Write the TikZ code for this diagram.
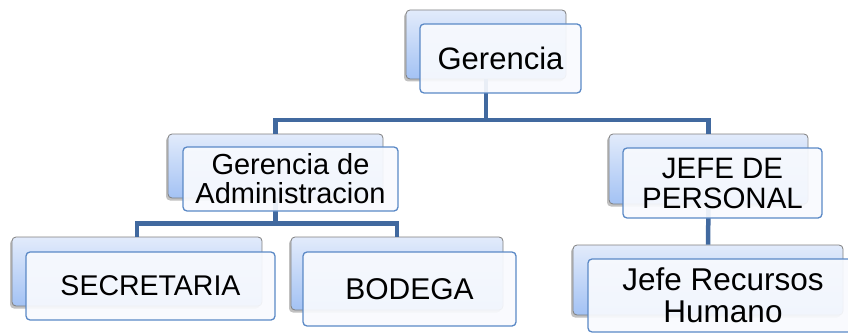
\documentclass[tikz,border=0pt]{standalone}
\usepackage{fontspec}
\setmainfont{Liberation Sans}
\usetikzlibrary{shadows}
\definecolor{backtop}{HTML}{E2EBFB}
\definecolor{backbot}{HTML}{A3C2F4}
\definecolor{backdraw}{HTML}{7F7F7F}
\definecolor{frontfill}{HTML}{F8FAFE}
\definecolor{frontdraw}{HTML}{5B89C6}
\definecolor{connc}{HTML}{41699F}
\tikzset{
 backbox/.style={draw=backdraw, line width=0.8pt, rounded corners=4pt, top color=backtop, bottom color=backbot, inner sep=0pt,
   drop shadow={shadow xshift=-2pt, shadow yshift=-2.5pt, opacity=0.35, fill=black!70}},
 frontbox/.style={draw=frontdraw, line width=1.3pt, rounded corners=4pt, fill=frontfill, fill opacity=0.92, text opacity=1, inner sep=0pt, align=center},
 conn/.style={draw=connc, line width=4.5pt},
}
\begin{document}
\begin{tikzpicture}[x=1pt,y=-1pt]
\useasboundingbox (0,0) rectangle (848,334);
% back boxes
\node[backbox, minimum width=160pt, minimum height=69pt] (gB) at (486,44.5) {};
\node[backbox, minimum width=215pt, minimum height=64pt] (adB) at (275.5,166) {};
\node[backbox, minimum width=199pt, minimum height=70pt] (jpB) at (708.5,169) {};
\node[backbox, minimum width=250pt, minimum height=69pt] (seB) at (137,271.5) {};
\node[backbox, minimum width=212pt, minimum height=73pt] (boB) at (397,273.5) {};
\node[backbox, minimum width=270pt, minimum height=70pt] (jrB) at (708,280) {};
% bus levels
\coordinate (bus1) at (0,120);
\coordinate (bus2) at (0,223.5);
% connectors
\draw[conn] (gB.south) -- (gB.south |- bus1);
\draw[conn] (adB.north) |- (gB.south |- bus1) -| (jpB.north);
\draw[conn] (adB.south) -- (adB.south |- bus2);
\draw[conn] (seB.north) |- (adB.south |- bus2) -| (boB.north);
\draw[conn] (jpB.south) -- (jrB.north);
% front boxes
\node[frontbox, minimum width=161pt, minimum height=69pt, font=\fontsize{31}{31}\selectfont] (g) at (500.5,58.5) {Gerencia};
\node[frontbox, minimum width=215pt, minimum height=64pt, font=\fontsize{29}{29}\selectfont] (ad) at (290.5,179) {Gerencia de\\Administracion};
\node[frontbox, minimum width=199pt, minimum height=70pt, font=\fontsize{29.5}{30}\selectfont] (jp) at (722.5,183) {JEFE DE\\PERSONAL};
\node[frontbox, minimum width=249pt, minimum height=68pt, font=\fontsize{28.5}{29}\selectfont] (se) at (150.5,286) {SECRETARIA};
\node[frontbox, minimum width=213pt, minimum height=74pt, font=\fontsize{30}{30}\selectfont] (bo) at (409.5,289) {BODEGA};
\node[frontbox, minimum width=270pt, minimum height=73pt, font=\fontsize{31.5}{32}\selectfont] (jr) at (723,295.5) {Jefe Recursos\\Humano};
\end{tikzpicture}
\end{document}
